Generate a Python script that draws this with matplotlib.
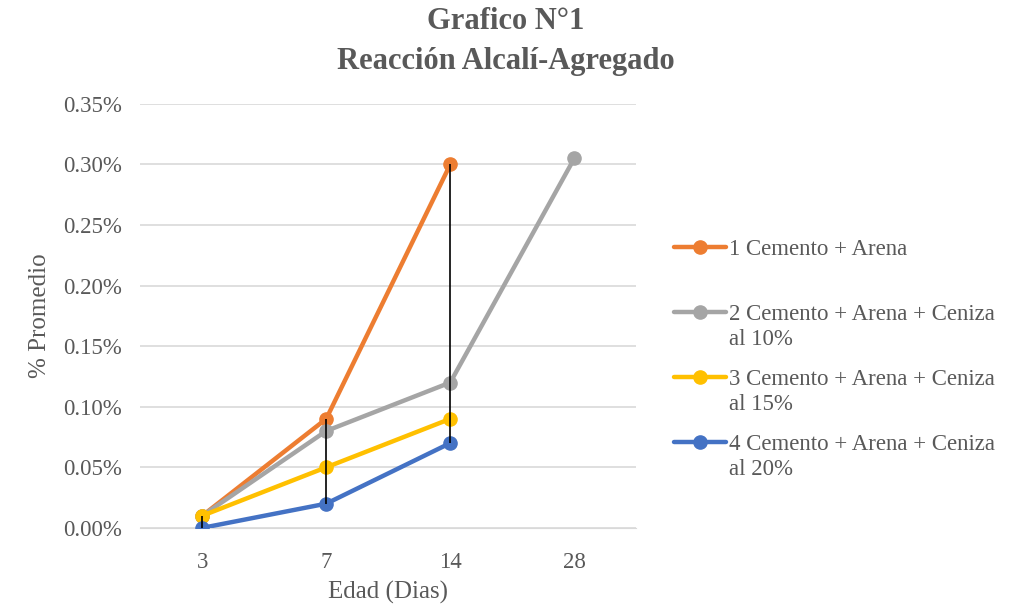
import numpy as np
import matplotlib.pyplot as plt
from matplotlib.ticker import PercentFormatter

dias = ["3", "7", "14", "28"]
serie1 = [0.01, 0.09, 0.30, np.nan]
serie2 = [0.01, 0.08, 0.12, 0.305]
serie3 = [0.01, 0.05, 0.09, np.nan]
serie4 = [0.00, 0.02, 0.07, np.nan]
nombres = ["1 Cemento + Arena",
           "2 Cemento + Arena + Ceniza",
           "3 Cemento + Arena + Ceniza",
           "4 Cemento + Arena + Ceniza"]
segunda_linea = ["", "al 10%", "al 15%", "al 20%"]
colores = ["#ED7D31", "#A5A5A5", "#FFC000", "#4472C4"]

plt.rcParams['font.family'] = ['Liberation Serif', 'DejaVu Serif']
gris = "#595959"

fig = plt.figure(figsize=(10.23, 6.04), dpi=100)
ax = fig.add_axes([0.137, 0.126, 0.485, 0.702])

x = np.arange(len(dias))
series = [serie1, serie2, serie3, serie4]
for s, nom, c in zip(series, nombres, colores):
    ax.plot(x, s, color=c, lw=3.2, marker='o', ms=9.5, label=nom, zorder=3,
            solid_capstyle='round')

# lineas de maximos y minimos
datos = np.array(series)
cuenta = np.sum(~np.isnan(datos), axis=0)
mx = np.nanmax(datos, axis=0)
mn = np.nanmin(datos, axis=0)
sel = cuenta > 1
ax.vlines(x[sel], mn[sel], mx[sel], color="black", lw=1.2, zorder=4)

ax.set_xlim(-0.5, 3.5)
ax.set_ylim(0, 0.35)
ax.set_yticks(np.arange(0, 0.351, 0.05))
ax.yaxis.set_major_formatter(PercentFormatter(100, decimals=2))
ax.set_xticks(x)
ax.set_xticklabels(dias)
ax.grid(axis='y', color="#D9D9D9", lw=1.2)
ax.set_axisbelow(True)
for sp in ax.spines.values():
    sp.set_visible(False)
ax.spines['bottom'].set_visible(True)
ax.spines['bottom'].set_color("#D9D9D9")
ax.tick_params(length=0, labelsize=16.5, colors=gris)
ax.tick_params(axis='y', pad=13)
ax.tick_params(axis='x', pad=17)

ax.set_xlabel("Edad (Dias)", fontsize=18, color=gris, labelpad=6)
ax.set_ylabel("% Promedio", fontsize=18, color=gris, labelpad=9)

fig.text(0.494, 0.989, "Grafico N°1\nReacción Alcalí-Agregado", ha='center', va='top',
         fontsize=22, fontweight='bold', color=gris, linespacing=1.5)

leg = ax.legend(loc='upper left', bbox_to_anchor=(1.075, 0.682), frameon=False,
                fontsize=16.5, labelcolor=gris, handlelength=2.3, handletextpad=0.1,
                labelspacing=1.92, borderaxespad=0, borderpad=0)

# segunda linea de cada etiqueta, debajo de la primera
fig.canvas.draw()
W, H = fig.canvas.get_width_height()
for t, extra in zip(leg.get_texts(), segunda_linea):
    if extra:
        bb = t.get_window_extent()
        fig.text(bb.x0 / W, (bb.y0 - 4) / H, extra, ha='left', va='top',
                 fontsize=16.5, color=gris)

fig.savefig("out.png", dpi=100)
